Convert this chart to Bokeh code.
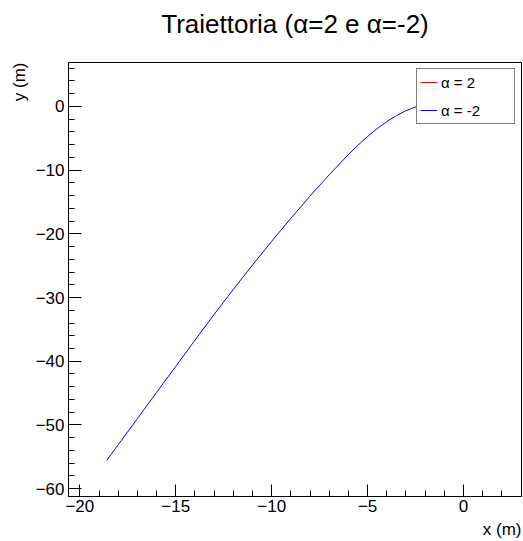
import numpy as np
from bokeh.plotting import figure
from bokeh.models import (Range1d, Legend, LegendItem, Title, FixedTicker,
                          CustomJSTickFormatter)
from bokeh.embed import file_html
from bokeh.resources import INLINE

# Trajectory data (x, y in metres)
x_alpha_neg2 = [-18.60, -18.00, -17.00, -16.00, -15.00, -14.00, -13.00, -12.00,
                -11.00, -10.00, -9.00, -8.00, -7.00, -6.00, -5.50, -5.00,
                -4.50, -4.00, -3.50, -3.00, -2.43, -1.80, -1.30]
y_alpha_neg2 = [-55.56, -53.10, -49.00, -44.90, -40.80, -36.70, -32.65, -28.73,
                -24.90, -21.18, -17.58, -14.09, -10.74, -7.57, -6.10, -4.74,
                -3.50, -2.40, -1.46, -0.69, -0.03, 0.40, 0.55]
# alpha = 2: no red curve is visible anywhere in the reference plot area
x_alpha_pos2 = np.array([np.nan])
y_alpha_pos2 = np.array([np.nan])

x_major = [-20, -15, -10, -5, 0]
x_minor = list(range(-20, 4))
y_major = [-60, -50, -40, -30, -20, -10, 0]
y_minor = list(range(-60, 7, 2))

title_text = "Traiettoria (\u03b1=2 e \u03b1=-2)"
xlabel_text = "x (m)"
ylabel_text = "y (m)"
legend_labels = ["\u03b1 = 2", "\u03b1 = -2"]

XMIN, XMAX = -20.59, 3.02
YMIN, YMAX = -61.22, 6.87
FONT = "Liberation Sans"

p = figure(width=523, height=541, x_range=Range1d(XMIN, XMAX),
           y_range=Range1d(YMIN, YMAX), output_backend="svg",
           toolbar_location=None, min_border_left=68, min_border_right=2,
           min_border_top=62, min_border_bottom=43)

p.background_fill_color = "white"
p.border_fill_color = "white"
p.outline_line_color = "black"
p.outline_line_width = 1
p.grid.visible = False

fmt = CustomJSTickFormatter(code="return (tick < 0 ? '\\u2212' : '') + Math.abs(tick).toString();")

xa = p.xaxis[0]
xa.ticker = FixedTicker(ticks=x_major, minor_ticks=x_minor)
xa.formatter = fmt
xa.major_tick_in = 12
xa.major_tick_out = 0
xa.minor_tick_in = 6
xa.minor_tick_out = 0
xa.major_label_standoff = 3
xa.major_label_text_font = FONT
xa.major_label_text_font_size = "17px"
xa.major_label_text_color = "black"
xa.axis_line_color = "black"
xa.major_tick_line_color = "black"
xa.minor_tick_line_color = "black"

ya = p.yaxis[0]
ya.ticker = FixedTicker(ticks=y_major, minor_ticks=y_minor)
ya.formatter = fmt
ya.major_tick_in = 13
ya.major_tick_out = 0
ya.minor_tick_in = 6
ya.minor_tick_out = 0
ya.major_label_standoff = 4
ya.major_label_text_font = FONT
ya.major_label_text_font_size = "17px"
ya.major_label_text_color = "black"
ya.axis_line_color = "black"
ya.major_tick_line_color = "black"
ya.minor_tick_line_color = "black"

r_pos = p.line(x_alpha_pos2, y_alpha_pos2, line_color="#ff0000", line_width=1)
r_neg = p.line(x_alpha_neg2, y_alpha_neg2, line_color="#0000ff", line_width=1)

legend = Legend(items=[LegendItem(label=legend_labels[0], renderers=[r_pos]),
                       LegendItem(label=legend_labels[1], renderers=[r_neg])],
                location="top_right", margin=6, padding=3, spacing=8,
                glyph_width=17, glyph_height=20, label_height=20,
                label_width=70, label_standoff=4,
                label_text_font=FONT, label_text_font_size="15px",
                label_text_color="black",
                border_line_color="black", border_line_width=1,
                background_fill_color="white", background_fill_alpha=1.0)
p.add_layout(legend)

# spacer between frame and title (keeps the title high without growing the panel)
p.add_layout(Title(text=" ", text_font_size="1px", standoff=21), "above")
p.add_layout(Title(text=title_text, align="center", text_font=FONT,
                   text_font_size="26px", text_font_style="normal",
                   text_color="black", standoff=0), "above")
p.add_layout(Title(text=xlabel_text, align="right", text_font=FONT,
                   text_font_size="17px", text_font_style="normal",
                   text_color="black", standoff=6), "below")
p.add_layout(Title(text=ylabel_text, align="right", text_font=FONT,
                   text_font_size="17px", text_font_style="normal",
                   text_color="black", standoff=8), "left")

open("out.html", "w").write(file_html(p, INLINE))
